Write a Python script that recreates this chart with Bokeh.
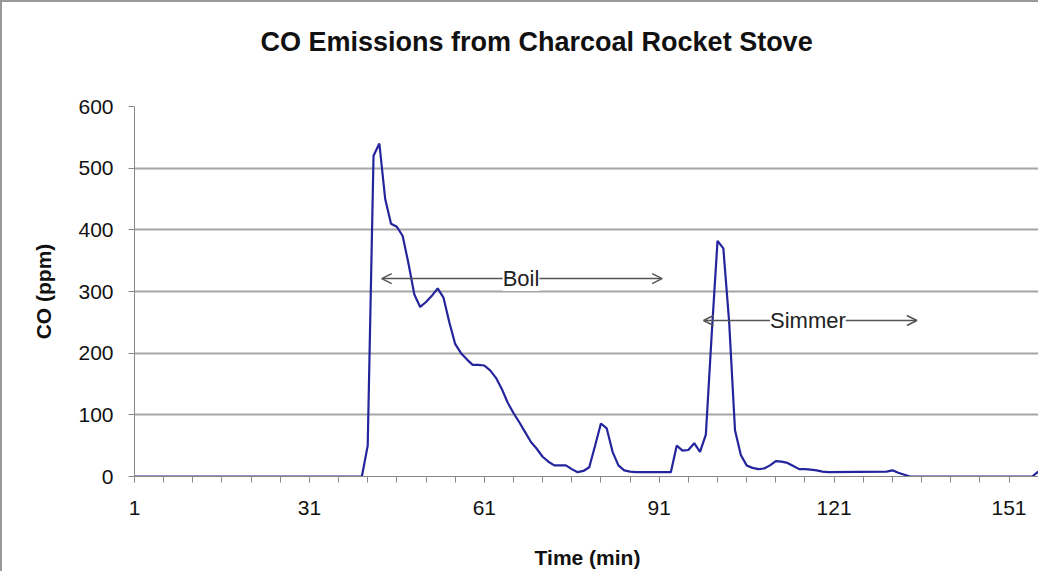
from bokeh.plotting import figure
from bokeh.models import (Range1d, FixedTicker, Arrow, OpenHead, Label, Title)
from bokeh.embed import file_html
from bokeh.resources import INLINE

# Data (time in minutes, CO in ppm)
time_min = [1, 40, 41, 42, 43, 44, 45, 46, 47, 48, 49, 50, 51, 52, 53, 54, 55,
            56, 57, 58, 59, 60, 61, 62, 63, 64, 65, 66, 67, 68, 69, 70, 71, 72,
            73, 74, 75, 76, 77, 78, 79, 80, 81, 82, 83, 84, 85, 86, 87, 93, 94,
            95, 96, 97, 98, 99, 100, 101, 102, 103, 104, 105, 106, 107, 108,
            109, 110, 111, 112, 113, 114, 115, 116, 117, 118, 119, 120, 130,
            131, 132, 134, 155, 156]
co_ppm = [0, 0, 50, 520, 540, 450, 410, 405, 390, 345, 295, 275, 283, 293, 305,
          290, 250, 215, 200, 190, 181, 181, 180, 172, 160, 142, 120, 103, 88,
          72, 56, 45, 32, 24, 18, 18, 18, 12, 7, 9, 15, 50, 86, 78, 40, 18, 10,
          8, 7, 7, 50, 42, 43, 54, 40, 68, 230, 382, 370, 250, 75, 35, 18, 14,
          12, 13, 18, 25, 24, 22, 17, 12, 12, 11, 10, 8, 7, 8, 10, 6, 0, 0, 8]

x_tick_labels = [1, 31, 61, 91, 121, 151]
y_ticks = [0, 100, 200, 300, 400, 500, 600]

title_text = "CO Emissions from Charcoal Rocket Stove"

# annotation phases
boil_start, boil_end, boil_y, boil_text_x = 43.4, 91.5, 321, 67.3
simmer_start, simmer_end, simmer_y, simmer_text_x = 98.6, 135.2, 253, 116.5

line_color = "#24249c"
grid_color = "#a6a6a6"
font = "Liberation Sans"

p = figure(width=1038, height=571, output_backend="svg", toolbar_location=None,
           x_range=Range1d(1, 156.4), y_range=Range1d(0, 600),
           title_location=None,
           min_border_left=132, min_border_top=104, min_border_bottom=97,
           min_border_right=0)
p.outline_line_color = None
p.background_fill_color = "white"
p.border_fill_color = "white"

# spacer between the title and the plot area, then the title itself
p.add_layout(Title(text=" ", text_font_size="1px", standoff=47), "above")
p.add_layout(Title(text=title_text, align="left", text_font=font,
                   text_font_size="27px", text_font_style="bold",
                   text_color="#111111", offset=126, standoff=0), "above")

p.xaxis.ticker = FixedTicker(ticks=x_tick_labels,
                             minor_ticks=list(range(1, 157, 5)))
p.yaxis.ticker = FixedTicker(ticks=y_ticks, minor_ticks=[])
p.xaxis.axis_label = "Time (min)"
p.yaxis.axis_label = "CO (ppm)"
for ax in (p.xaxis, p.yaxis):
    ax.axis_label_text_font = font
    ax.axis_label_text_font_size = "21px"
    ax.axis_label_text_font_style = "bold"
    ax.axis_label_text_color = "#111111"
    ax.major_label_text_font = font
    ax.major_label_text_font_size = "21px"
    ax.major_label_text_color = "#111111"
    ax.axis_line_color = "#888888"
    ax.major_tick_line_color = "#888888"
    ax.minor_tick_line_color = "#888888"
    ax.major_tick_in = 0
    ax.minor_tick_in = 0
p.xaxis.major_tick_out = 6
p.xaxis.minor_tick_out = 6
p.yaxis.major_tick_out = 6
p.xaxis.major_label_standoff = 18
p.xaxis.axis_label_standoff = 28
p.yaxis.major_label_standoff = 15
p.yaxis.axis_label_standoff = 20

p.xgrid.grid_line_color = None
p.ygrid.grid_line_color = grid_color
p.ygrid.grid_line_width = 1.8

p.line(time_min, co_ppm, line_color=line_color, line_width=2.2)

arrow_color = "#555555"
for (x0, x1, y) in [(boil_start, boil_end, boil_y),
                    (simmer_start, simmer_end, simmer_y)]:
    p.add_layout(Arrow(x_start=x0, y_start=y, x_end=x1, y_end=y,
                       line_color=arrow_color, line_width=1.5,
                       start=OpenHead(size=10, line_color=arrow_color, line_width=1.5),
                       end=OpenHead(size=10, line_color=arrow_color, line_width=1.5)))

for (tx, ty, txt) in [(boil_text_x, boil_y, "Boil"),
                      (simmer_text_x, simmer_y, "Simmer")]:
    p.add_layout(Label(x=tx, y=ty, text=txt, text_align="center",
                       text_baseline="middle", text_font=font,
                       text_font_size="22px", text_color="#222222",
                       background_fill_color="white",
                       background_fill_alpha=1.0))

p.styles = {"border-left": "2px solid #999999", "border-top": "2px solid #999999"}

open("out.html", "w").write(file_html(p, INLINE))
